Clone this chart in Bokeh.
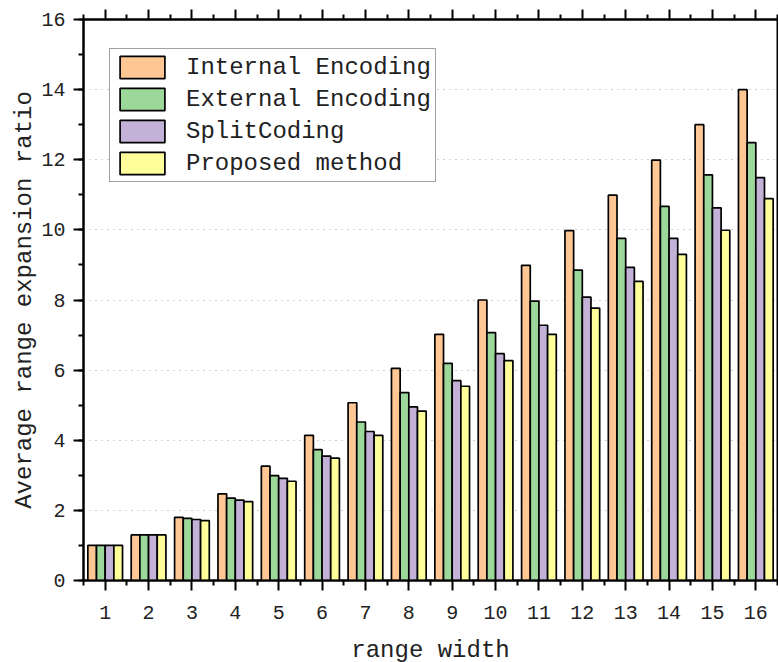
from bokeh.plotting import figure
from bokeh.models import (ColumnDataSource, Range1d, LinearAxis, FixedTicker,
                          SingleIntervalTicker, Legend, LegendItem)
from bokeh.transform import dodge
from bokeh.embed import file_html
from bokeh.resources import INLINE

categories = list(range(1, 17))
tick_labels = [str(c) for c in categories]
internal = [1.0, 1.3, 1.8, 2.47, 3.26, 4.14, 5.07, 6.05, 7.02, 8.0, 8.99, 9.98, 10.99, 11.99, 13.0, 14.0]
external = [1.0, 1.3, 1.77, 2.35, 2.99, 3.73, 4.52, 5.36, 6.19, 7.07, 7.97, 8.85, 9.76, 10.67, 11.57, 12.49]
splitcoding = [1.0, 1.3, 1.74, 2.29, 2.91, 3.55, 4.25, 4.95, 5.70, 6.47, 7.28, 8.08, 8.93, 9.76, 10.63, 11.49]
proposed = [1.0, 1.3, 1.71, 2.25, 2.83, 3.49, 4.14, 4.83, 5.54, 6.27, 7.02, 7.77, 8.53, 9.30, 9.99, 10.89]

series_names = ["Internal Encoding", "External Encoding", "SplitCoding", "Proposed method"]
series_keys = ["internal", "external", "split", "proposed"]
colors = ["#FEC794", "#9DD89B", "#C3B1D7", "#FEFE9A"]
offsets = [-0.3, -0.1, 0.1, 0.3]

FONT = "Liberation Mono"

source = ColumnDataSource(dict(x=categories, internal=internal, external=external,
                               split=splitcoding, proposed=proposed))

p = figure(frame_width=694, frame_height=561, output_backend="svg", toolbar_location=None,
           x_range=Range1d(0.5, 16.5), y_range=Range1d(0, 16),
           min_border_left=83, min_border_top=19, min_border_right=1, min_border_bottom=70,
           x_axis_label="range width", y_axis_label="Average range expansion ratio")

renderers = []
for key, col, off in zip(series_keys, colors, offsets):
    r = p.vbar(x=dodge("x", off, range=p.x_range), top=key, width=0.2, bottom=0,
               source=source, fill_color=col, line_color="black", line_width=1.7)
    renderers.append(r)

minor_x = [c - 0.5 for c in categories] + [categories[-1] + 0.5]
xticker = FixedTicker(ticks=categories, minor_ticks=minor_x)
yticker = SingleIntervalTicker(interval=2, num_minor_ticks=2)

xa = p.xaxis[0]
xa.ticker = xticker
xa.major_label_overrides = {c: l for c, l in zip(categories, tick_labels)}
ya = p.yaxis[0]
ya.ticker = yticker

for ax in (xa, ya):
    ax.axis_line_width = 2
    ax.axis_line_color = "black"
    ax.major_tick_line_width = 2
    ax.minor_tick_line_width = 2
    ax.major_tick_in = 0
    ax.major_tick_out = 10
    ax.minor_tick_in = 0
    ax.minor_tick_out = 5
    ax.major_label_text_font = FONT
    ax.major_label_text_font_size = "20px"
    ax.major_label_text_color = "#222222"
    ax.axis_label_text_font = FONT
    ax.axis_label_text_font_size = "24px"
    ax.axis_label_text_font_style = "normal"
    ax.axis_label_text_color = "#222222"

xa.major_label_standoff = 15
xa.axis_label_standoff = 15
ya.major_label_standoff = 8
ya.axis_label_standoff = 0

top = LinearAxis(ticker=FixedTicker(ticks=categories, minor_ticks=minor_x),
                 major_label_overrides={c: "" for c in categories},
                 axis_line_width=2, major_label_standoff=0,
                 major_tick_line_width=2, minor_tick_line_width=2,
                 major_tick_in=0, major_tick_out=10, minor_tick_in=0, minor_tick_out=5)
p.add_layout(top, "above")

p.outline_line_color = "black"
p.outline_line_width = 2

p.xgrid.visible = False
p.ygrid.ticker = FixedTicker(ticks=[2, 4, 6, 8, 10, 12, 14])
p.ygrid.grid_line_color = "#a0a0a0"
p.ygrid.grid_line_dash = "1 5"
p.ygrid.grid_line_width = 1.2

legend = Legend(items=[LegendItem(label=n, renderers=[r]) for n, r in zip(series_names, renderers)],
                location=(26, 398), glyph_width=56, glyph_height=28, spacing=4, padding=4,
                margin=0, label_standoff=16, label_text_font=FONT, label_text_font_size="24px",
                label_text_color="#222222", label_height=28,
                border_line_color="#444444", border_line_width=1, background_fill_alpha=1)
p.add_layout(legend, "center")

open("out.html", "w").write(file_html(p, INLINE))
